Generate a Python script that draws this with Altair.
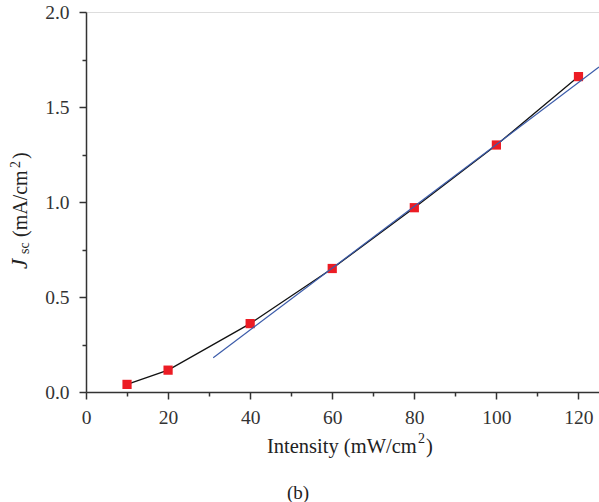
import altair as alt
import pandas as pd

intensity = [10, 20, 40, 60, 80, 100, 120]
jsc = [0.04, 0.115, 0.36, 0.65, 0.97, 1.30, 1.66]
fit_x = [31, 125]
fit_y = [0.18, 1.71]
x_ticks = [0, 10, 20, 30, 40, 50, 60, 70, 80, 90, 100, 110, 120]
y_ticks = [0, 0.25, 0.5, 0.75, 1.0, 1.25, 1.5, 1.75, 2.0]

FONT = "Liberation Serif"
AX = "#333333"
TXT = "#222222"

df = pd.DataFrame({"intensity": intensity, "jsc": jsc})
fit = pd.DataFrame({"intensity": fit_x, "jsc": fit_y})
one = pd.DataFrame({"a": [0]})

xs = alt.Scale(domain=[0, 125], nice=False, zero=False)
ys = alt.Scale(domain=[0, 2.0], nice=False, zero=False)

x_axis = alt.Axis(
    values=x_ticks,
    labelExpr="datum.value % 20 === 0 ? datum.label : ''",
    tickSize={"condition": {"test": "datum.value % 20 === 0", "value": 7}, "value": 4},
    title=None,
    labelFont=FONT, labelFontSize=19.5, labelColor="#333333", labelPadding=9,
    domainColor=AX, tickColor=AX, domainWidth=1.5, tickWidth=1.5,
    grid=False, labelFlush=False,
)
y_axis = alt.Axis(
    values=y_ticks,
    format=".1f",
    labelExpr="datum.value % 0.5 === 0 ? datum.label : ''",
    tickSize={"condition": {"test": "datum.value % 0.5 === 0", "value": 7}, "value": 4},
    title=None,
    labelFont=FONT, labelFontSize=19.5, labelColor="#333333", labelPadding=10,
    domainColor=AX, tickColor=AX, domainWidth=1.5, tickWidth=1.5,
    grid=False, labelFlush=False,
)

line = alt.Chart(df).mark_line(color="#111111", strokeWidth=1.3).encode(
    x=alt.X("intensity:Q", scale=xs, axis=x_axis),
    y=alt.Y("jsc:Q", scale=ys, axis=y_axis),
)
points = alt.Chart(df).mark_square(size=85, color="#ec1c24", opacity=1, filled=True).encode(
    x=alt.X("intensity:Q", scale=xs),
    y=alt.Y("jsc:Q", scale=ys),
)
fitline = alt.Chart(fit).mark_line(color="#3b5ba9", strokeWidth=1.2).encode(
    x=alt.X("intensity:Q", scale=xs),
    y=alt.Y("jsc:Q", scale=ys),
)


def txt(s, x, y, size, angle=0, align="left", italic=False, baseline="alphabetic"):
    kw = dict(text=s, font=FONT, fontSize=size, align=align, baseline=baseline, color=TXT)
    if angle:
        kw["angle"] = angle
    if italic:
        kw["fontStyle"] = "italic"
    return alt.Chart(one).mark_text(**kw).encode(x=alt.value(x), y=alt.value(y))


# page coords -> plot coords: subtract (86, 12)
OX, OY = 86, 12
labels = [
    # y-axis title, rotated
    txt("J", 27 - OX, 269 - OY, 23, angle=270, italic=True),
    txt("sc", 29 - OX, 254 - OY, 14, angle=270),
    txt("(mA/cm", 27 - OX, 237 - OY, 20, angle=270),
    txt("2", 20 - OX, 168 - OY, 14, angle=270),
    txt(")", 27 - OX, 159 - OY, 20, angle=270),
    # x-axis title
    txt("Intensity (mW/cm", 267 - OX, 453 - OY, 20.5),
    txt("2", 418 - OX, 443 - OY, 14),
    txt(")", 426 - OX, 453 - OY, 20.5),
    # panel label
    txt("(b)", 298 - OX, 493 - OY, 19, align="center", baseline="middle"),
]

chart = alt.layer(line, points, fitline, *labels).properties(
    width=513, height=380,
    autosize=alt.AutoSizeParams(type="none"),
    padding={"left": 86, "top": 12, "right": 0, "bottom": 110},
).configure_view(stroke=None).configure(background="white")

chart.save("out.html", embed_options={"renderer": "svg", "actions": False})
